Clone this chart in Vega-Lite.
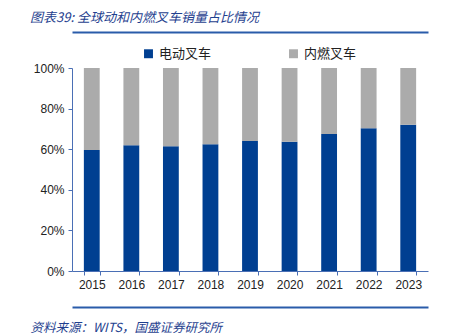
{
  "$schema": "https://vega.github.io/schema/vega-lite/v6.json",
  "width": 356,
  "height": 203,
  "autosize": "none",
  "padding": {"left": 72, "top": 68, "right": 30, "bottom": 63},
  "background": "white",
  "config": {"view": {"stroke": null}, "font": "Liberation Sans"},
  "title": {
    "text": "图表39: 全球动和内燃叉车销量占比情况",
    "anchor": "start",
    "frame": "group",
    "dx": -42,
    "font": "Noto Sans CJK SC",
    "fontSize": 13,
    "fontStyle": "italic",
    "fontWeight": "normal",
    "color": "#1f3f8f",
    "offset": 7
  },
  "data": {
    "values": [
      {"year": "2015", "type": "电动叉车", "value": 59.6},
      {"year": "2016", "type": "电动叉车", "value": 61.9},
      {"year": "2017", "type": "电动叉车", "value": 61.4},
      {"year": "2018", "type": "电动叉车", "value": 62.4},
      {"year": "2019", "type": "电动叉车", "value": 64.0},
      {"year": "2020", "type": "电动叉车", "value": 63.7},
      {"year": "2021", "type": "电动叉车", "value": 67.5},
      {"year": "2022", "type": "电动叉车", "value": 70.3},
      {"year": "2023", "type": "电动叉车", "value": 72.1},
      {"year": "2015", "type": "内燃叉车", "value": 40.4},
      {"year": "2016", "type": "内燃叉车", "value": 38.1},
      {"year": "2017", "type": "内燃叉车", "value": 38.6},
      {"year": "2018", "type": "内燃叉车", "value": 37.6},
      {"year": "2019", "type": "内燃叉车", "value": 36.0},
      {"year": "2020", "type": "内燃叉车", "value": 36.3},
      {"year": "2021", "type": "内燃叉车", "value": 32.5},
      {"year": "2022", "type": "内燃叉车", "value": 29.7},
      {"year": "2023", "type": "内燃叉车", "value": 27.9}
    ]
  },
  "layer": [
    {
      "mark": {"type": "bar"},
      "encoding": {
        "x": {
          "field": "year",
          "type": "ordinal",
          "scale": {"paddingInner": 0.6, "paddingOuter": 0.3},
          "axis": {
            "orient": "bottom",
            "labelAngle": 0,
            "domainColor": "#4a6fb5",
            "tickColor": "#4a6fb5",
            "tickBand": "extent",
            "tickSize": 4,
            "labelFont": "Liberation Sans",
            "labelFontSize": 12,
            "labelColor": "#222222",
            "labelPadding": 4,
            "title": "资料来源：WITS，国盛证券研究所",
            "titleFont": "Noto Sans CJK SC",
            "titleFontSize": 12.5,
            "titleFontStyle": "italic",
            "titleFontWeight": "normal",
            "titleColor": "#1f3f8f",
            "titleX": -42,
            "titleY": 56,
            "titleAlign": "left",
            "titleBaseline": "middle",
            "titleAnchor": "start"
          }
        },
        "y": {
          "field": "value",
          "type": "quantitative",
          "stack": true,
          "scale": {"domain": [0, 100]},
          "axis": {
            "values": [0, 20, 40, 60, 80, 100],
            "labelExpr": "datum.value + '%'",
            "grid": false,
            "domainColor": "#4a6fb5",
            "tickColor": "#4a6fb5",
            "tickSize": 4,
            "labelFont": "Liberation Sans",
            "labelFontSize": 12,
            "labelColor": "#222222",
            "labelPadding": 4,
            "title": null
          }
        },
        "color": {
          "field": "type",
          "type": "nominal",
          "scale": {"domain": ["电动叉车", "内燃叉车"], "range": ["#003f91", "#ababab"]},
          "legend": {
            "orient": "none",
            "legendX": 70,
            "legendY": -21,
            "title": null,
            "direction": "horizontal",
            "symbolType": "square",
            "symbolSize": 80,
            "symbolStrokeWidth": 0,
            "labelFont": "Noto Sans CJK SC",
            "labelFontSize": 13,
            "labelColor": "#222222",
            "columnPadding": 75
          }
        },
        "order": {"field": "type", "sort": "descending"}
      }
    },
    {
      "mark": {"type": "bar", "opacity": 0},
      "encoding": {
        "x": {
          "field": "year",
          "type": "ordinal",
          "axis": {
            "orient": "top",
            "offset": 36,
            "labels": false,
            "ticks": false,
            "domainColor": "#2a5caa",
            "domainWidth": 2,
            "title": null
          }
        }
      }
    },
    {
      "mark": {"type": "bar", "opacity": 0},
      "encoding": {
        "x": {
          "field": "year",
          "type": "ordinal",
          "axis": {
            "orient": "bottom",
            "offset": 36,
            "labels": false,
            "ticks": false,
            "domainColor": "#2a5caa",
            "domainWidth": 2,
            "title": null
          }
        }
      }
    }
  ],
  "resolve": {"axis": {"x": "independent"}}
}
